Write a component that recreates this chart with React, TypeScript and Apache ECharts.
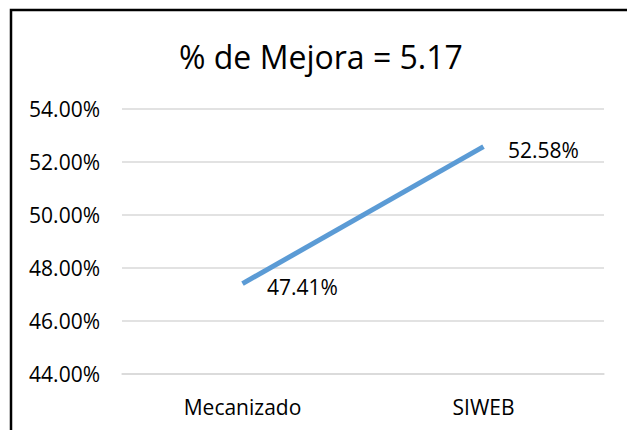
import React, { useEffect, useRef } from "react";
import * as echarts from "echarts";

const categories = ["Mecanizado", "SIWEB"];
const values = [0.4741, 0.5258];
const titleText = "% de Mejora = 5.17";
const yMin = 0.44;
const yMax = 0.54;
const yInterval = 0.02;

const FONT = "Open Sans";

export default function App() {
  const ref = useRef<HTMLDivElement>(null);
  useEffect(() => {
    if (!ref.current) return;
    const chart = echarts.init(ref.current, null, { renderer: "svg" });
    chart.setOption({
      animation: false,
      backgroundColor: "#ffffff",
      title: {
        text: titleText,
        left: 174,
        top: 35,
        textStyle: { fontFamily: FONT, fontSize: 32, fontWeight: "normal", color: "#000000" },
      },
      grid: { left: 122, right: 23, top: 109, bottom: 56 },
      xAxis: {
        type: "category",
        data: categories,
        boundaryGap: true,
        axisLine: { show: true, lineStyle: { color: "#d9d9d9", width: 1.5 } },
        axisTick: { show: false },
        axisLabel: { fontFamily: FONT, fontSize: 21, color: "#000000", margin: 22 },
      },
      yAxis: {
        type: "value",
        min: yMin,
        max: yMax,
        interval: yInterval,
        axisLine: { show: false },
        axisTick: { show: false },
        splitLine: { lineStyle: { color: "#d9d9d9", width: 1.5 } },
        axisLabel: {
          fontFamily: FONT,
          fontSize: 21,
          color: "#000000",
          margin: 22,
          formatter: (v: number) => (v * 100).toFixed(2) + "%",
        },
      },
      series: [
        {
          type: "line",
          data: values,
          showSymbol: true,
          symbol: "circle",
          symbolSize: 1,
          itemStyle: { color: "rgba(0,0,0,0)" },
          lineStyle: { color: "#5b9bd5", width: 5, cap: "butt" },
          label: {
            show: true,
            position: "right",
            distance: 24,
            offset: [0, 3],
            fontFamily: FONT,
            fontSize: 21,
            color: "#000000",
            formatter: (p: any) => (p.value * 100).toFixed(2) + "%",
          },
        },
      ],
      graphic: [
        {
          type: "rect",
          shape: { x: 11, y: 10, width: 660, height: 460 },
          style: { fill: "none", stroke: "#000000", lineWidth: 2.5 },
          silent: true,
        },
      ],
    });
    return () => chart.dispose();
  }, []);
  return (
    <div
      ref={ref}
      style={{ position: "fixed", left: 0, top: 0, width: 627, height: 430 }}
    />
  );
}
